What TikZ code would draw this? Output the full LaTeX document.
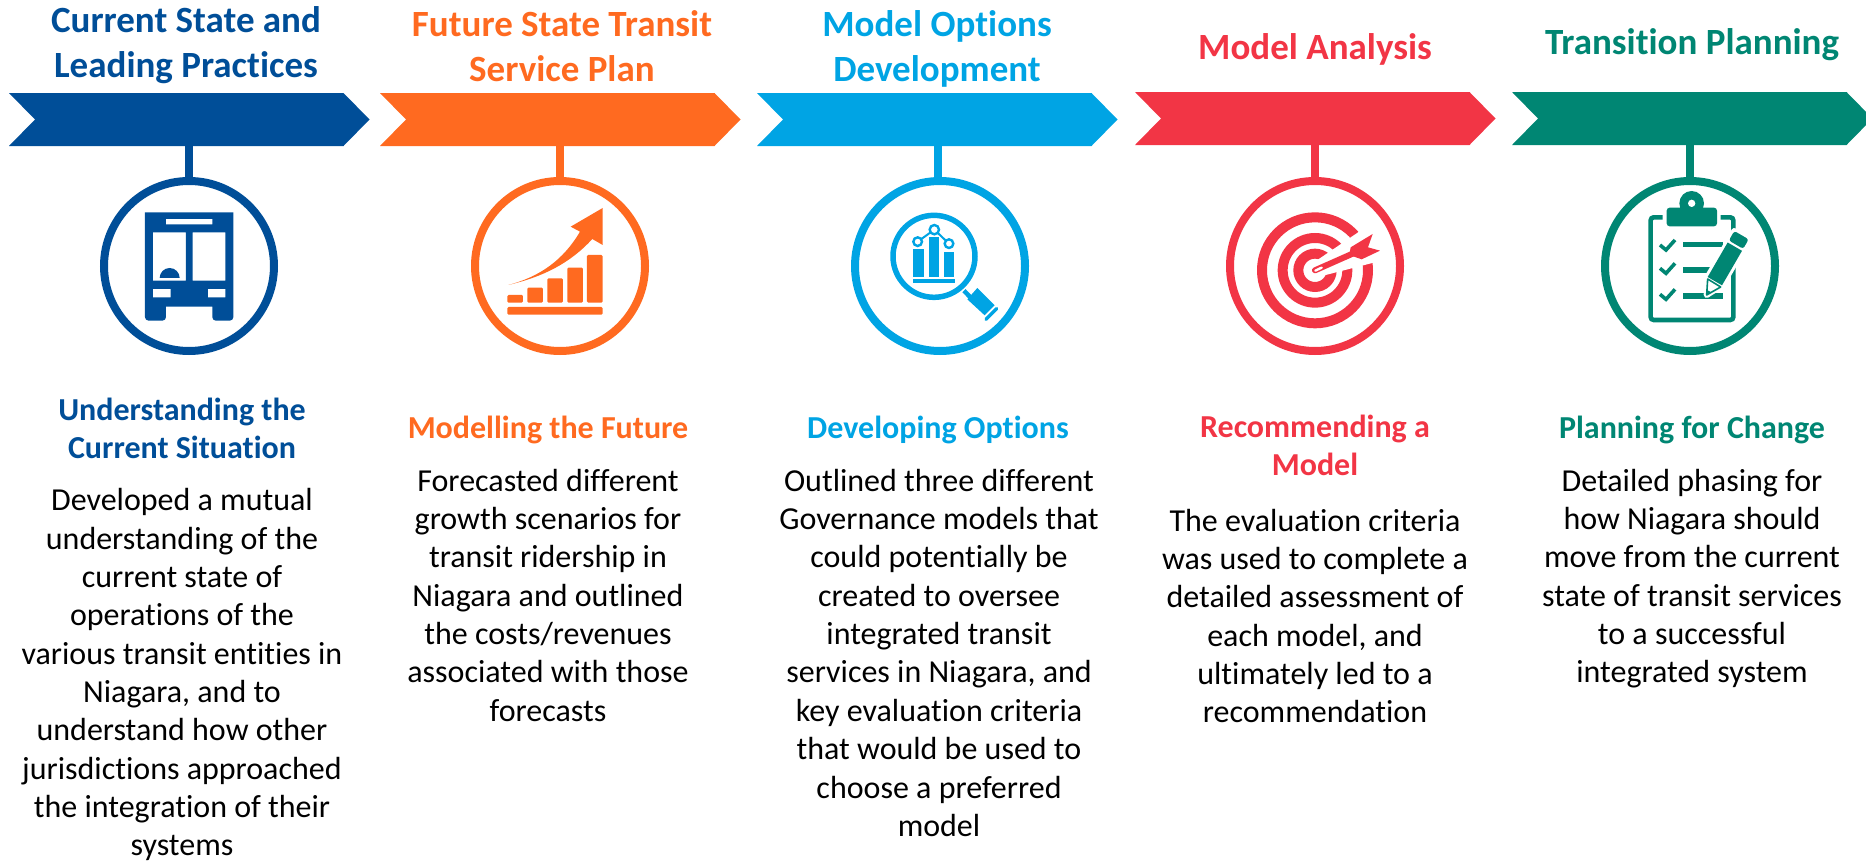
\documentclass[tikz,border=0pt]{standalone}
\usepackage{fontspec}
\setmainfont[Ligatures=NoCommon]{Carlito}
\definecolor{cblue}{HTML}{004E98}
\definecolor{corange}{HTML}{FF6A20}
\definecolor{ccyan}{HTML}{00A4E4}
\definecolor{cred}{HTML}{F23545}
\definecolor{cgreen}{HTML}{008673}
\newcommand{\lead}{\rule{0pt}{40pt}}
% id, colour, left, top, stem x, circle x
\newcommand{\stepunit}[6]{%
  \fill[#2] (#3,#4) -- ++(334.5,0) -- ++(26,26.5) -- ++(-26,26.5) -- ++(-334.5,0) -- ++(26,-26.5) -- cycle;
  \coordinate (a#1) at (#5,#4+53);
  \node[ring,draw=#2] (c#1) at (#6,266) {};
  \draw[stem,draw=#2] (a#1) -- (a#1 |- c#1.north);
}
% name, colour, x, first baseline, lines
\newcommand{\ttl}[5]{\node[titlet,text=#2] (#1) at (#3,#4-40) {\lead #5};}
\newcommand{\sbh}[5]{\node[subt,text=#2] (#1) at (#3,#4-40) {\lead #5};}
\newcommand{\bdy}[4]{\node[bodyt] (#1) at (#2,#3-40) {\lead #4};}
\tikzset{
  ring/.style={circle,line width=8pt,minimum size=170pt,inner sep=0pt,outer sep=0pt,fill=none},
  stem/.style={line width=8pt},
  titlet/.style={anchor=north,inner sep=0pt,align=center,font=\fontsize{37}{45.5}\selectfont\bfseries},
  subt/.style={anchor=north,inner sep=0pt,align=center,font=\fontsize{32}{38.5}\selectfont\bfseries},
  bodyt/.style={anchor=north,inner sep=0pt,align=center,text=black,font=\fontsize{32}{38.35}\selectfont},
  icon/.style={x=0.3333pt,y=-0.3333pt},
}
\begin{document}
\begin{tikzpicture}[x=1pt,y=-1pt]
\useasboundingbox (0,0) rectangle (1866,862);
\clip (0,0) rectangle (1866,862);
\stepunit{1}{cblue}{9}{93}{189}{189}
\stepunit{2}{corange}{380}{93}{560}{560}
\stepunit{3}{ccyan}{757}{93}{938}{940}
\stepunit{4}{cred}{1135}{92}{1315}{1315}
\stepunit{5}{cgreen}{1512}{92}{1690}{1690}
% titles
\ttl{t1}{cblue}{186}{32}{Current State and\\Leading Practices}
\ttl{t2}{corange}{562}{36}{Future State Transit\\Service Plan}
\ttl{t3}{ccyan}{937}{36}{Model Options\\Development}
\ttl{t4}{cred}{1315}{59}{Model Analysis}
\ttl{t5}{cgreen}{1692}{54}{Transition Planning}
% sub headings
\sbh{s1}{cblue}{182}{420}{Understanding the\\Current Situation}
\sbh{s2}{corange}{548}{438}{Modelling the Future}
\sbh{s3}{ccyan}{938}{438}{Developing Options}
\sbh{s4}{cred}{1315}{437}{Recommending a\\Model}
\sbh{s5}{cgreen}{1692}{438}{Planning for Change}
% bodies
\bdy{b1}{182}{510.5}{Developed a mutual\\understanding of the\\current state of\\operations of the\\various transit entities in\\Niagara, and to\\understand how other\\jurisdictions approached\\the integration of their\\systems}
\bdy{b2}{548}{491}{Forecasted different\\growth scenarios for\\transit ridership in\\Niagara and outlined\\the costs/revenues\\associated with those\\forecasts}
\bdy{b3}{939}{491}{Outlined three different\\Governance models that\\could potentially be\\created to oversee\\integrated transit\\services in Niagara, and\\key evaluation criteria\\that would be used to\\choose a preferred\\model}
\bdy{b4}{1315}{531}{The evaluation criteria\\was used to complete a\\detailed assessment of\\each model, and\\ultimately led to a\\recommendation}
\bdy{b5}{1692}{491}{Detailed phasing for\\how Niagara should\\move from the current\\state of transit services\\to a successful\\integrated system}
% bus icon
\begin{scope}[shift={(80,160)},icon]
\fill[cblue,even odd rule]
  (195,157) -- (460,157) [rounded corners=3.5pt] -- (460,482) -- (397,482) [sharp corners] -- (397,440) -- (258,440) [rounded corners=3.5pt] -- (258,482) -- (195,482) [sharp corners] -- cycle
  (258,177) rectangle (397,193)
  (219,217) rectangle (318,362)
  (338,217) rectangle (436,362)
  (219,387) rectangle (272,412)
  (384,387) rectangle (436,412);
\fill[cblue] (239,354) arc[start angle=180,end angle=360,radius=30] -- cycle;
\end{scope}
% chart icon
\begin{scope}[shift={(460,160)},icon]
\fill[corange,rounded corners=1.2pt] (142,405) rectangle (189,428);
\fill[corange,rounded corners=1.2pt] (202,383) rectangle (249,428);
\fill[corange,rounded corners=1.2pt] (262,355) rectangle (309,428);
\fill[corange,rounded corners=1.2pt] (322,323) rectangle (369,428);
\fill[corange,rounded corners=1.2pt] (381,285) rectangle (428,428);
\fill[corange,rounded corners=1.2pt] (142,441) rectangle (428,464);
\fill[corange] (145,375) .. controls (240,350) and (310,300) .. (360,215) -- (332,200) -- (428,144) -- (428,255) -- (397,237) .. controls (330,310) and (250,350) .. (145,375) -- cycle;
\end{scope}
% magnifier icon
\begin{scope}[shift={(840,160)},icon]
\draw[ccyan,line width=5.5pt] (282,289) circle[radius=123];
\fill[ccyan] (220,268) rectangle (252,350);
\fill[ccyan] (266,232) rectangle (298,350);
\fill[ccyan] (311,275) rectangle (343,350);
\fill[ccyan] (219,358) rectangle (345,368);
\draw[ccyan,line width=2pt] (233,245) -- (283,209) -- (327,251);
\draw[ccyan,line width=2.4pt,fill=white] (233,245) circle[radius=13];
\draw[ccyan,line width=2.4pt,fill=white] (283,209) circle[radius=14];
\draw[ccyan,line width=2.4pt,fill=white] (327,251) circle[radius=13];
\draw[ccyan,line width=4.5pt] (372,392) -- (395,416);
\fill[ccyan] (382,418) -- (412,384) -- (464,436) -- (434,466) -- cycle;
\draw[ccyan,line width=3.4pt,line cap=round] (470,446) -- (438,478);
\end{scope}
% target icon
\begin{scope}[shift={(1210,160)},icon]
\draw[cred,line width=10pt] (315,331) circle[radius=159];
\draw[cred,line width=10pt] (315,331) circle[radius=97];
\draw[cred,line width=10pt] (315,331) circle[radius=50];
\fill[white] (306,311) -- (462,205) -- (522,300) -- (324,351) -- cycle;
\draw[cred,line width=6pt,line cap=round] (315,331) -- (430,280);
\draw[white,line width=2.4pt,line cap=round] (316,332) -- (335,323);
\fill[cred] (422,262) -- (488,222) -- (474,262) -- (510,272) -- (455,298) -- (418,285) -- cycle;
\end{scope}
% clipboard icon
\begin{scope}[shift={(1590,160)},icon]
\draw[cgreen,line width=4.6pt,rounded corners=3pt] (218,172) -- (182,172) -- (182,480) -- (430,480) -- (430,172) -- (392,172);
\fill[cgreen,rounded corners=3pt] (230,143) rectangle (381,199);
\fill[cgreen] (305,130) circle[radius=37];
\fill[white] (305,130) circle[radius=11];
\foreach \yy in {255,325,403}{
  \draw[cgreen,line width=3.6pt] (210,\yy) -- (228,\yy+15) -- (255,\yy-15);
}
\fill[cgreen] (278,246) rectangle (400,262);
\fill[cgreen] (278,322) rectangle (365,338);
\fill[cgreen] (278,400) rectangle (400,416);
\draw[white,line width=6pt,line join=round,fill=white] (350,405) -- (353,351) -- (433,213) -- (476,238) -- (396,376) -- cycle;
\fill[cgreen] (353,351) -- (413,247.5) -- (456,272.5) -- (396,376) -- cycle;
\fill[cgreen,rounded corners=2.5pt] (416.5,241.5) -- (433,213) -- (476,238) -- (459.5,266.5) -- cycle;
\draw[cgreen,line width=1.6pt,fill=white,line join=round] (353,357) -- (350,405) -- (392,381) -- cycle;
\fill[cgreen] (350,405) -- (351,390) -- (364,397) -- cycle;
\end{scope}
\end{tikzpicture}
\end{document}
